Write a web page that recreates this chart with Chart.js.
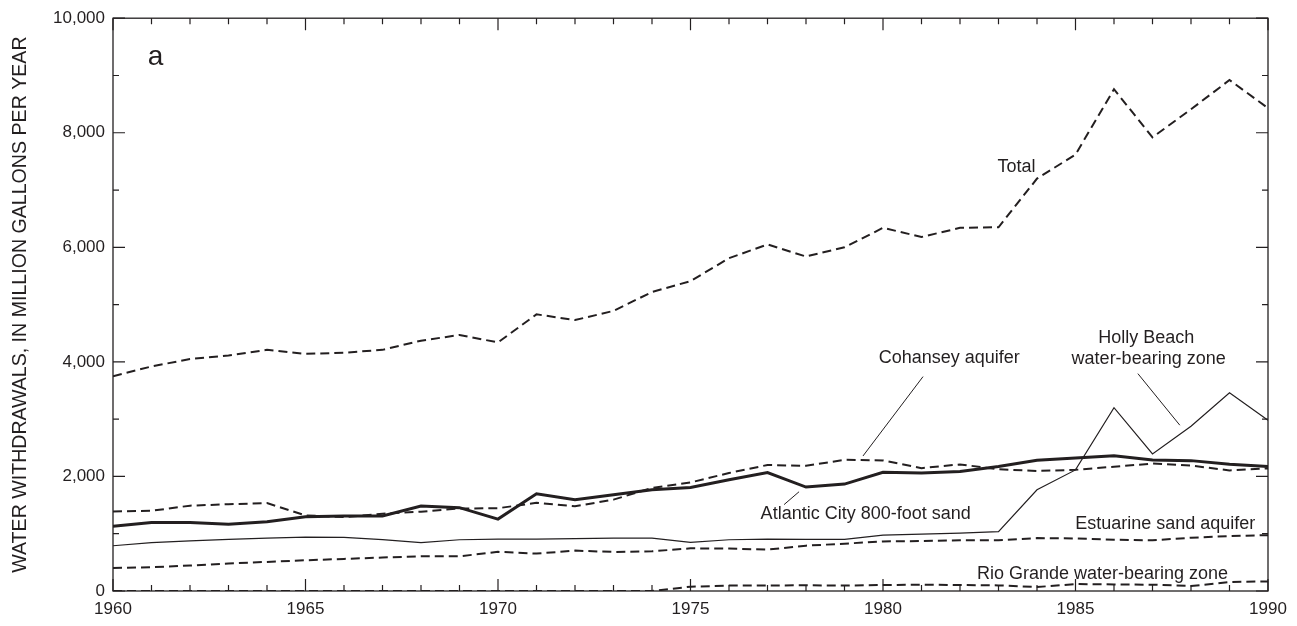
<!DOCTYPE html>
<html>
<head>
<meta charset="utf-8">
<script src="https://cdn.jsdelivr.net/npm/chart.js@4/dist/chart.umd.min.js"></script>
<style>
  body { margin: 0; background: #fff; }
  #chart { display: block; }
</style>
</head>
<body>
<canvas id="chart" width="1297" height="626"></canvas>
<script>
const years = [1960, 1961, 1962, 1963, 1964, 1965, 1966, 1967, 1968, 1969,
               1970, 1971, 1972, 1973, 1974, 1975, 1976, 1977, 1978, 1979,
               1980, 1981, 1982, 1983, 1984, 1985, 1986, 1987, 1988, 1989, 1990];

// million gallons per year
const total = [3750, 3920, 4050, 4110, 4210, 4140, 4160, 4210, 4370, 4470,
               4340, 4830, 4730, 4890, 5220, 5410, 5810, 6050, 5840, 6000,
               6340, 6180, 6340, 6350, 7200, 7620, 8760, 7920, 8410, 8920, 8430];
const cohansey = [1390, 1400, 1490, 1515, 1535, 1320, 1290, 1350, 1385, 1440,
                  1445, 1540, 1480, 1595, 1800, 1895, 2060, 2200, 2185, 2290,
                  2280, 2145, 2210, 2125, 2095, 2115, 2170, 2225, 2190, 2105, 2140];
const atlanticCity = [1132, 1195, 1195, 1165, 1210, 1295, 1310, 1310, 1482, 1455,
                      1255, 1698, 1594, 1681, 1768, 1808, 1941, 2068, 1814, 1866,
                      2074, 2060, 2085, 2172, 2282, 2322, 2363, 2288, 2276, 2212, 2172];
const hollyBeach = [790, 845, 875, 900, 922, 940, 935, 898, 845, 895,
                    905, 905, 913, 924, 924, 850, 895, 907, 901, 901,
                    976, 993, 1010, 1035, 1768, 2114, 3200, 2392, 2877, 3461, 2981];
const estuarine = [400, 416, 445, 480, 508, 537, 560, 584, 607, 606,
                   684, 653, 705, 682, 693, 745, 740, 723, 792, 826,
                   866, 872, 884, 884, 924, 918, 895, 884, 930, 960, 975];
const rioGrande = [0, 0, 0, 0, 0, 0, 0, 0, 0, 0,
                   0, 0, 0, 0, 0, 75, 95, 95, 100, 95,
                   104, 110, 104, 98, 69, 121, 115, 110, 87, 156, 168];

const yTicks = [0, 2000, 4000, 6000, 8000, 10000];
const xTickLabels = [1960, 1965, 1970, 1975, 1980, 1985, 1990];

const ink = '#231f20';
const font = 'Liberation Sans, Arial, Helvetica, sans-serif';

// text annotations in data units (year, value)
const notes = [
  { text: 'a', x: 1960.9, y: 9320, size: 28, align: 'left' },
  { text: 'Total', x: 1983.47, y: 7400 },
  { text: 'Cohansey aquifer', x: 1981.72, y: 4070 },
  { text: 'Holly Beach', x: 1986.84, y: 4425 },
  { text: 'water-bearing zone', x: 1986.9, y: 4050 },
  { text: 'Atlantic City 800-foot sand', x: 1979.55, y: 1350 },
  { text: 'Estuarine sand aquifer', x: 1987.33, y: 1175 },
  { text: 'Rio Grande water-bearing zone', x: 1985.7, y: 295 }
];
const leaders = [
  [1981.04, 3743, 1979.48, 2357],
  [1977.43, 1508, 1977.82, 1733],
  [1986.62, 3795, 1987.71, 2894]
];

function series(values) {
  return years.map((yr, i) => ({ x: yr, y: values[i] }));
}

function lineSet(label, values, width, dash) {
  return {
    label: label,
    data: series(values),
    borderColor: ink,
    borderWidth: width,
    borderDash: dash,
    pointRadius: 0,
    tension: 0,
    fill: false
  };
}

const frameAndNotes = {
  id: 'frameAndNotes',
  afterDraw(chart) {
    const ctx = chart.ctx;
    const a = chart.chartArea;
    const xs = chart.scales.x;
    const ys = chart.scales.y;
    ctx.save();
    ctx.strokeStyle = ink;
    ctx.lineWidth = 1.3;
    ctx.strokeRect(a.left, a.top, a.right - a.left, a.bottom - a.top);

    // inward ticks on all four sides
    ctx.lineWidth = 1.2;
    ctx.beginPath();
    xs.ticks.forEach(t => {
      const px = xs.getPixelForValue(t.value);
      const len = t.value % 5 === 0 ? 12 : 6;
      ctx.moveTo(px, a.bottom); ctx.lineTo(px, a.bottom - len);
      ctx.moveTo(px, a.top); ctx.lineTo(px, a.top + len);
    });
    ys.ticks.forEach(t => {
      const py = ys.getPixelForValue(t.value);
      const len = t.value % 2000 === 0 ? 12 : 6;
      ctx.moveTo(a.left, py); ctx.lineTo(a.left + len, py);
      ctx.moveTo(a.right, py); ctx.lineTo(a.right - len, py);
    });
    ctx.stroke();

    // leader lines
    ctx.lineWidth = 1;
    ctx.beginPath();
    leaders.forEach(l => {
      ctx.moveTo(xs.getPixelForValue(l[0]), ys.getPixelForValue(l[1]));
      ctx.lineTo(xs.getPixelForValue(l[2]), ys.getPixelForValue(l[3]));
    });
    ctx.stroke();

    // labels
    ctx.fillStyle = ink;
    ctx.textBaseline = 'middle';
    notes.forEach(n => {
      ctx.font = (n.size || 18) + 'px ' + font;
      ctx.textAlign = n.align || 'center';
      ctx.fillText(n.text, xs.getPixelForValue(n.x), ys.getPixelForValue(n.y));
    });
    ctx.restore();
  }
};

new Chart(document.getElementById('chart'), {
  type: 'line',
  data: {
    datasets: [
      lineSet('Total', total, 2, [9, 5]),
      lineSet('Cohansey aquifer', cohansey, 2, [9, 5]),
      lineSet('Atlantic City 800-foot sand', atlanticCity, 3, []),
      lineSet('Holly Beach water-bearing zone', hollyBeach, 1.2, []),
      lineSet('Estuarine sand aquifer', estuarine, 2, [9, 5]),
      lineSet('Rio Grande water-bearing zone', rioGrande, 2, [9, 5])
    ]
  },
  options: {
    responsive: false,
    animation: false,
    devicePixelRatio: 1,
    layout: { padding: { top: 15, right: 29, bottom: 0, left: 0 } },
    plugins: { legend: { display: false }, tooltip: { enabled: false } },
    scales: {
      x: {
        type: 'linear',
        min: 1960,
        max: 1990,
        grid: { display: false, drawTicks: false },
        border: { display: false },
        afterFit: s => { s.height = 35; },
        ticks: {
          stepSize: 1,
          maxTicksLimit: 40,
          autoSkip: false,
          maxRotation: 0,
          padding: 8,
          color: ink,
          font: { family: font, size: 17 },
          callback: v => xTickLabels.includes(v) ? String(v) : ''
        }
      },
      y: {
        min: 0,
        max: 10000,
        grid: { display: false, drawTicks: false },
        border: { display: false },
        afterFit: s => { s.width = 113; },
        title: {
          display: true,
          text: 'WATER WITHDRAWALS, IN MILLION GALLONS PER YEAR',
          color: ink,
          font: { family: font, size: 19.6 },
          padding: { top: 9, bottom: 0 }
        },
        ticks: {
          stepSize: 1000,
          maxTicksLimit: 20,
          padding: 8,
          color: ink,
          font: { family: font, size: 17 },
          callback: v => yTicks.includes(v) ? v.toLocaleString('en-US') : ''
        }
      }
    }
  },
  plugins: [frameAndNotes]
});
</script>
</body>
</html>
